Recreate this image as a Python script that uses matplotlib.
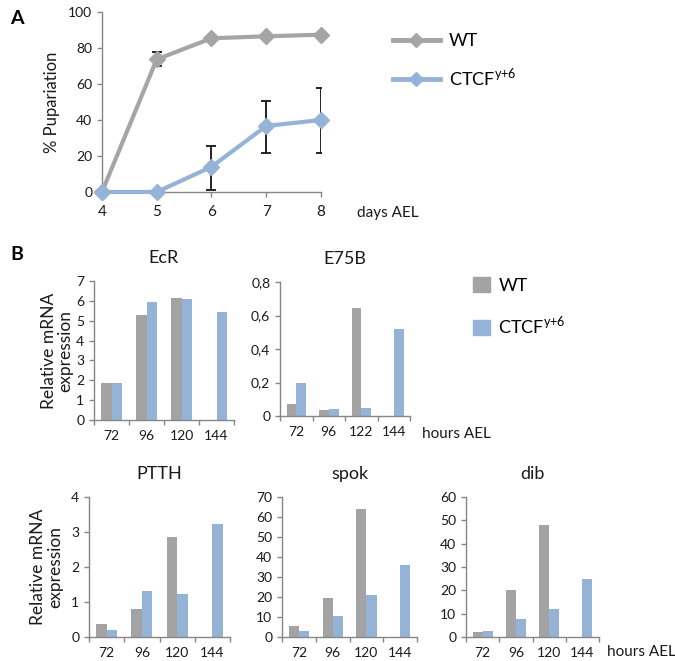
import matplotlib
matplotlib.use("Agg")
import matplotlib.pyplot as plt
from matplotlib.patches import Patch
from matplotlib.lines import Line2D
import numpy as np

plt.rcParams['font.family'] = ['Lato', 'DejaVu Sans']
plt.rcParams['mathtext.fontset'] = 'custom'
plt.rcParams['mathtext.rm'] = 'Lato'

# ---------------- data ----------------
days = [4, 5, 6, 7, 8]
wt_pup = [0, 73.7, 85.4, 86.5, 87.4]
wt_err_lo = [0, 3.5, 0, 0, 0]
wt_err_hi = [0, 4.1, 0, 0, 0]
ctcf_pup = [0, 0, 14.0, 36.7, 40.0]
ctcf_err_lo = [0, 0, 12.9, 14.9, 18.2]
ctcf_err_hi = [0, 0, 11.7, 14.0, 18.0]

hours = ['72', '96', '120', '144']
hours_e75b = ['72', '96', '122', '144']

ecr_wt = [1.88, 5.29, 6.16, 0]
ecr_ctcf = [1.85, 5.96, 6.08, 5.42]
e75b_wt = [0.074, 0.038, 0.647, 0]
e75b_ctcf = [0.20, 0.04, 0.05, 0.52]
ptth_wt = [0.38, 0.81, 2.85, 0]
ptth_ctcf = [0.21, 1.32, 1.22, 3.23]
spok_wt = [5.3, 19.5, 64.2, 0]
spok_ctcf = [2.8, 10.3, 20.8, 36.2]
dib_wt = [2.3, 20.0, 48.2, 0]
dib_ctcf = [2.5, 7.9, 11.9, 24.9]

ecr_yticks = [0, 1, 2, 3, 4, 5, 6, 7]
e75b_yticks = [0, 0.2, 0.4, 0.6, 0.8]
e75b_ylabels = ['0', '0,2', '0,4', '0,6', '0,8']
ptth_yticks = [0, 1, 2, 3, 4]
spok_yticks = [0, 10, 20, 30, 40, 50, 60, 70]
dib_yticks = [0, 10, 20, 30, 40, 50, 60]

GRAY = '#A5A5A5'
BLUE = '#95B3D7'
BGRAY = '#A3A3A3'
SPINE = '#868686'
TXT = '#1a1a1a'
CTCF_LABEL = 'CTCF$^{\\mathrm{y{+}6}}$'

W, H = 675, 661
fig = plt.figure(figsize=(W / 100, H / 100), dpi=100)


def ax_px(x0, y0, x1, y1):
    return fig.add_axes([x0 / W, 1 - y1 / H, (x1 - x0) / W, (y1 - y0) / H])


def style(ax):
    for s in ['top', 'right']:
        ax.spines[s].set_visible(False)
    for s in ['left', 'bottom']:
        ax.spines[s].set_color(SPINE)
        ax.spines[s].set_linewidth(1.0)
    ax.tick_params(colors=SPINE, labelcolor=TXT, length=3.5, width=1.0, labelsize=10)


# ---------------- Panel A ----------------
axA = ax_px(102, 12, 321, 192)
style(axA)
axA.set_xlim(4, 8)
axA.set_ylim(0, 100)
axA.set_yticks([0, 20, 40, 60, 80, 100])
axA.set_xticks(days)
axA.tick_params(axis='x', labelsize=11, pad=6)
axA.tick_params(axis='y', labelsize=10)

def errs(vals, lo, hi):
    idx = [i for i in range(len(vals)) if lo[i] > 0 or hi[i] > 0]
    return ([days[i] for i in idx], [vals[i] for i in idx],
            [[lo[i] for i in idx], [hi[i] for i in idx]])

x, y, e = errs(wt_pup, wt_err_lo, wt_err_hi)
axA.errorbar(x, y, yerr=e, fmt='none', ecolor='#222222', elinewidth=1.4, capsize=3.5, capthick=1.4, zorder=2)
x, y, e = errs(ctcf_pup, ctcf_err_lo, ctcf_err_hi)
axA.errorbar(x, y, yerr=e, fmt='none', ecolor='#222222', elinewidth=1.4, capsize=3.5, capthick=1.4, zorder=2)
axA.plot(days, wt_pup, color=GRAY, lw=3, marker='D', ms=8, zorder=3, clip_on=False)
axA.plot(days, ctcf_pup, color=BLUE, lw=3, marker='D', ms=8, zorder=3, clip_on=False)
axA.set_ylabel('% Pupariation', fontsize=12, color=TXT, labelpad=6)
fig.text(357 / W, 1 - 213 / H, 'days AEL', fontsize=11, color=TXT, va='center', ha='left')

handlesA = [Line2D([], [], color=GRAY, lw=3.5, marker='D', ms=7),
            Line2D([], [], color=BLUE, lw=3.5, marker='D', ms=7)]
fig.legend(handlesA, ['WT', CTCF_LABEL], loc='upper left',
           bbox_to_anchor=(393 / W, 1 - 33 / H), frameon=False, fontsize=13,
           handlelength=2.6, handletextpad=0.5, labelspacing=0.95, borderpad=0,
           borderaxespad=0)

fig.text(10 / W, 1 - 18 / H, 'A', fontsize=14, fontweight='bold', va='center', ha='left')
fig.text(10 / W, 1 - 255 / H, 'B', fontsize=14, fontweight='bold', va='center', ha='left')

# ---------------- Panel B ----------------
def bar_panel(box, wt, ct, yticks, title, ylabels=None, xlabels=hours, ylab=False, lpad=5):
    ax = ax_px(*box)
    style(ax)
    xs = np.arange(len(wt))
    ax.bar(xs - 0.15, wt, width=0.3, color=BGRAY, zorder=2)
    ax.bar(xs + 0.15, ct, width=0.3, color=BLUE, zorder=2)
    ax.set_xlim(-0.5, len(wt) - 0.5)
    ax.set_ylim(yticks[0], yticks[-1])
    ax.set_yticks(yticks)
    if ylabels is not None:
        ax.set_yticklabels(ylabels)
    ax.set_xticks(np.arange(len(wt) + 1) - 0.5)
    ax.set_xticklabels([])
    ax.set_xticks(xs, minor=True)
    ax.set_xticklabels(xlabels, minor=True)
    ax.tick_params(axis='x', which='minor', length=0, pad=7, labelsize=10, labelcolor=TXT)
    ax.set_title(title, fontsize=13, color=TXT, pad=13)
    if ylab:
        ax.set_ylabel('Relative mRNA\nexpression', fontsize=12.5, color=TXT, labelpad=lpad,
                      linespacing=1.05)
    return ax

bar_panel((94, 281, 234, 420), ecr_wt, ecr_ctcf, ecr_yticks, 'EcR', ylab=True, lpad=2)
bar_panel((280, 282, 410, 416), e75b_wt, e75b_ctcf, e75b_yticks, 'E75B',
          ylabels=e75b_ylabels, xlabels=hours_e75b)
bar_panel((89, 497, 230, 637), ptth_wt, ptth_ctcf, ptth_yticks, 'PTTH', ylab=True, lpad=6)
bar_panel((282, 497, 417, 637), spok_wt, spok_ctcf, spok_yticks, 'spok')
bar_panel((466, 497, 599, 637), dib_wt, dib_ctcf, dib_yticks, 'dib')

fig.text(422 / W, 1 - 434 / H, 'hours AEL', fontsize=11, color=TXT, va='center', ha='left')
fig.text(607 / W, 1 - 652 / H, 'hours AEL', fontsize=11, color=TXT, va='center', ha='left')

handlesB = [Patch(color=BGRAY), Patch(color=BLUE)]
fig.legend(handlesB, ['WT', CTCF_LABEL], loc='upper left',
           bbox_to_anchor=(473 / W, 1 - 277 / H), frameon=False, fontsize=13,
           handlelength=0.95, handleheight=0.9, handletextpad=0.45, labelspacing=1.15,
           borderpad=0, borderaxespad=0)

fig.savefig('out.png', dpi=100)
